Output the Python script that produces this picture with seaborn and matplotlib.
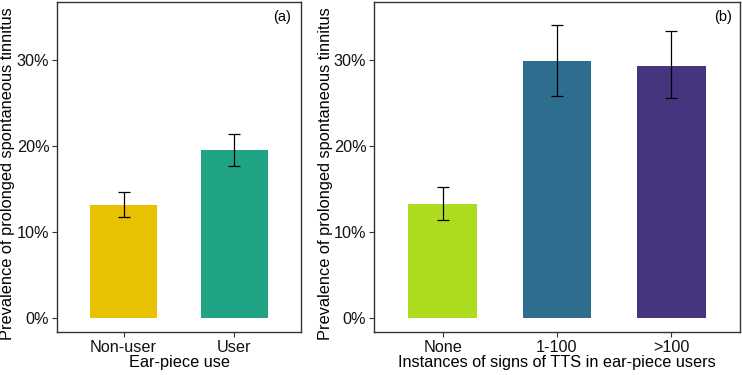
import matplotlib
matplotlib.use("Agg")
import matplotlib.pyplot as plt
import seaborn as sns
import pandas as pd
from matplotlib.ticker import PercentFormatter

# panel (a)
use_cats = ["Non-user", "User"]
use_prev = [13.1, 19.5]
use_lo = [11.8, 17.7]
use_hi = [14.7, 21.4]
use_colors = ["#E8C100", "#21A386"]

# panel (b)
tts_cats = ["None", "1-100", ">100"]
tts_prev = [13.2, 29.8, 29.3]
tts_lo = [11.4, 25.8, 25.6]
tts_hi = [15.2, 34.0, 33.3]
tts_colors = ["#ADDC1F", "#2D6E8E", "#47347E"]

ylab = "Prevalence of prolonged spontaneous tinnitus"

sns.set_theme(style="white")
plt.rcParams["font.family"] = ["Liberation Sans", "DejaVu Sans"]

fig = plt.figure(figsize=(7.42, 3.75), dpi=100)
ax_a = fig.add_axes([0.0768, 0.1147, 0.3289, 0.88])
ax_b = fig.add_axes([0.5040, 0.1147, 0.4933, 0.88])


def draw_panel(ax, cats, prev, lo, hi, colors, xlabel, tag, tag_x, ylab_x):
    df = pd.DataFrame({"cat": cats, "prev": prev})
    sns.barplot(data=df, x="cat", y="prev", hue="cat", palette=colors,
                width=0.6, legend=False, ax=ax, saturation=1, linewidth=0)
    err = [[p - l for p, l in zip(prev, lo)], [h - p for p, h in zip(prev, hi)]]
    ax.errorbar(range(len(cats)), prev, yerr=err, fmt="none", ecolor="black",
                elinewidth=0.9, capsize=4, capthick=0.9)
    ax.set_xlim(-0.6, len(cats) - 0.4)
    ax.set_ylim(-1.6, 36.7)
    ax.set_yticks([0, 10, 20, 30])
    ax.yaxis.set_major_formatter(PercentFormatter(decimals=0))
    ax.set_xlabel(xlabel, fontsize=11.7, labelpad=0, color="black")
    ax.set_ylabel(ylab, fontsize=11.8, color="black")
    ax.yaxis.set_label_coords(ylab_x, 0.48)
    ax.tick_params(axis="both", which="both", length=3.5, width=0.8, color="#333333",
                   labelsize=11.7, labelcolor="#111111", pad=2, bottom=True, left=True)
    for s in ax.spines.values():
        s.set_color("#333333")
        s.set_linewidth(1.0)
    ax.text(tag_x, 0.976, tag, transform=ax.transAxes, ha="right", va="top",
            fontsize=10.5, color="black")


draw_panel(ax_a, use_cats, use_prev, use_lo, use_hi, use_colors,
           "Ear-piece use", "(a)", 0.959, -0.172)
draw_panel(ax_b, tts_cats, tts_prev, tts_lo, tts_hi, tts_colors,
           "Instances of signs of TTS in ear-piece users", "(b)", 0.978, -0.112)

fig.savefig("out.png", dpi=100)
